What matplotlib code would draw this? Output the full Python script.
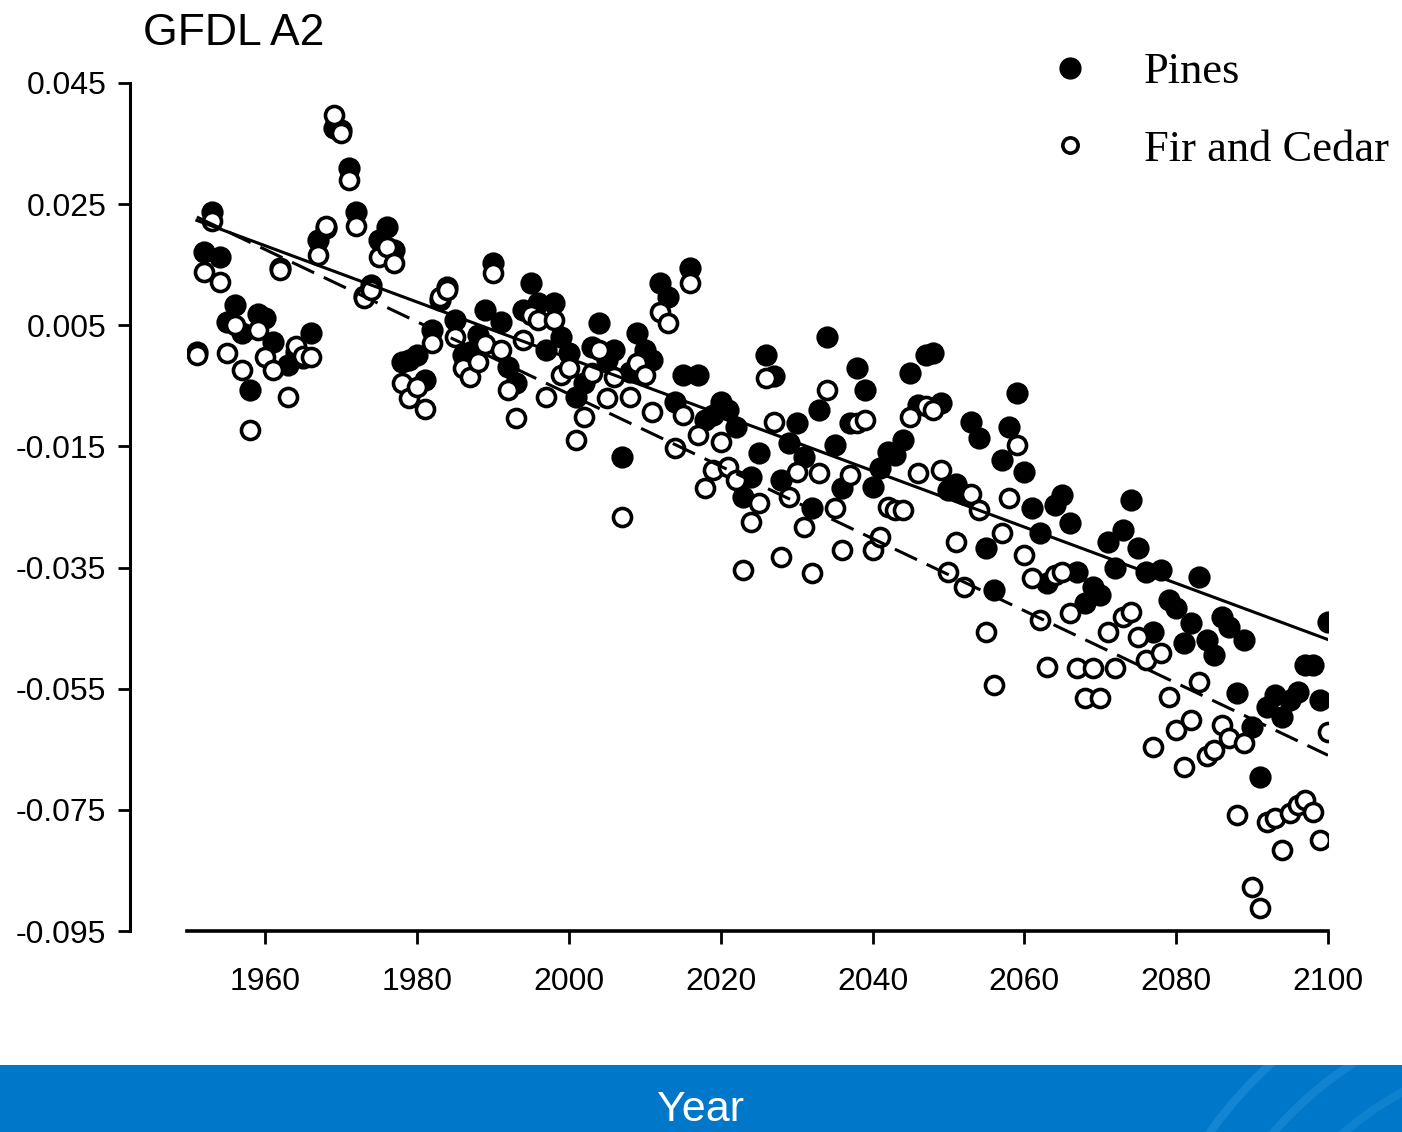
import matplotlib
matplotlib.use("Agg")
import matplotlib.pyplot as plt
from matplotlib.lines import Line2D
from matplotlib.patches import Rectangle, Arc
import numpy as np

# years 1951-2100, one value per year for each group
years = list(range(1951, 2101))

pines = [
    0.0006, 0.0171, 0.0237, 0.0163, 0.0055, 0.0083, 0.0037, -0.0057, 0.0068, 0.0062,   # 1951-1960
    0.0022, 0.0145, -0.0016, 0.0006, -0.0004, 0.0037, 0.0191, 0.0211, 0.0376, 0.0372,  # 1961-1970
    0.0310, 0.0237, 0.0098, 0.0117, 0.0191, 0.0212, 0.0174, -0.0011, -0.0007, 0.0001,  # 1971-1980
    -0.0040, 0.0042, 0.0092, 0.0113, 0.0059, 0.0001, 0.0006, 0.0034, 0.0075, 0.0153,   # 1981-1990
    0.0055, -0.0019, -0.0045, 0.0075, 0.0120, 0.0087, 0.0009, 0.0087, 0.0031, 0.0004,  # 1991-2000
    -0.0068, -0.0045, 0.0014, 0.0054, -0.0007, 0.0009, -0.0167, -0.0027, 0.0037, 0.0009,  # 2001-2010
    -0.0007, 0.0120, 0.0097, -0.0077, -0.0032, 0.0145, -0.0032, -0.0106, -0.0098, -0.0077,  # 2011-2020
    -0.0090, -0.0118, -0.0233, -0.0200, -0.0161, 0.0001, -0.0034, -0.0205, -0.0144, -0.0111,  # 2021-2030
    -0.0167, -0.0252, -0.0090, 0.0031, -0.0148, -0.0219, -0.0111, -0.0021, -0.0057, -0.0217,  # 2031-2040
    -0.0186, -0.0159, -0.0164, -0.0139, -0.0029, -0.0082, 0.0001, 0.0004, -0.0078, -0.0222,  # 2041-2050
    -0.0212, -0.0228, -0.0110, -0.0136, -0.0318, -0.0387, -0.0172, -0.0118, -0.0062, -0.0192,  # 2051-2060
    -0.0252, -0.0293, -0.0375, -0.0247, -0.0230, -0.0276, -0.0357, -0.0409, -0.0382, -0.0395,  # 2061-2070
    -0.0308, -0.0351, -0.0288, -0.0238, -0.0318, -0.0357, -0.0456, -0.0354, -0.0404, -0.0417,  # 2071-2080
    -0.0475, -0.0442, -0.0366, -0.0470, -0.0494, -0.0432, -0.0448, -0.0557, -0.0470, -0.0613,  # 2081-2090
    -0.0696, -0.0580, -0.0560, -0.0597, -0.0569, -0.0555, -0.0511, -0.0511, -0.0569, -0.0440,  # 2091-2100
]

fir_cedar = [
    0.0001, 0.0138, 0.0222, 0.0121, 0.0004, 0.0050, -0.0024, -0.0123, 0.0042, -0.0002,
    -0.0024, 0.0141, -0.0068, 0.0016, -0.0001, -0.0002, 0.0166, 0.0214, 0.0397, 0.0367,
    0.0290, 0.0214, 0.0095, 0.0108, 0.0163, 0.0179, 0.0153, -0.0045, -0.0070, -0.0052,
    -0.0088, 0.0021, 0.0097, 0.0108, 0.0031, -0.0021, -0.0035, -0.0011, 0.0019, 0.0136,
    0.0009, -0.0057, -0.0103, 0.0026, 0.0067, 0.0059, -0.0068, 0.0059, -0.0032, -0.0021,
    -0.0139, -0.0101, -0.0029, 0.0009, -0.0070, -0.0035, -0.0267, -0.0068, -0.0012, -0.0032,
    -0.0093, 0.0072, 0.0054, -0.0153, -0.0098, 0.0120, -0.0131, -0.0219, -0.0189, -0.0143,
    -0.0184, -0.0205, -0.0354, -0.0275, -0.0243, -0.0037, -0.0110, -0.0333, -0.0233, -0.0192,
    -0.0283, -0.0359, -0.0194, -0.0057, -0.0252, -0.0321, -0.0197, -0.0111, -0.0106, -0.0321,
    -0.0300, -0.0250, -0.0255, -0.0255, -0.0101, -0.0194, -0.0083, -0.0090, -0.0189, -0.0357,
    -0.0308, -0.0382, -0.0228, -0.0255, -0.0456, -0.0544, -0.0293, -0.0235, -0.0148, -0.0329,
    -0.0367, -0.0437, -0.0514, -0.0362, -0.0357, -0.0425, -0.0516, -0.0565, -0.0516, -0.0565,
    -0.0456, -0.0516, -0.0432, -0.0424, -0.0465, -0.0503, -0.0646, -0.0491, -0.0564, -0.0618,
    -0.0679, -0.0602, -0.0539, -0.0661, -0.0651, -0.0610, -0.0631, -0.0759, -0.0640, -0.0877,
    -0.0912, -0.0770, -0.0763, -0.0816, -0.0755, -0.0742, -0.0734, -0.0754, -0.0800, -0.0621,
]

y_ticks = [0.045, 0.025, 0.005, -0.015, -0.035, -0.055, -0.075, -0.095]
x_ticks = [1960, 1980, 2000, 2020, 2040, 2060, 2080, 2100]

W, H = 1402, 1132
fig = plt.figure(figsize=(W / 100, H / 100), dpi=100)
ax = fig.add_axes([187 / W, 1 - 931 / H, (1328 - 187) / W, (931 - 83) / H])

yr = np.array(years)
ax.plot(yr, pines, 'o', ms=14, mfc='black', mec='black', mew=2, zorder=2)
ax.plot(yr, fir_cedar, 'o', ms=13, mfc='white', mec='black', mew=2.6, zorder=2.5)

# linear trends
for vals, style in [(pines, '-'), (fir_cedar, (0, (8, 3.5)))]:
    k, b = np.polyfit(yr, vals, 1)
    ax.plot([1951, 2100], [k * 1951 + b, k * 2100 + b], color='black', lw=2.2,
            linestyle=style, zorder=3)

ax.set_xlim(1949.7, 2100)
ax.set_ylim(-0.095, 0.045)
ax.set_xticks(x_ticks)
ax.set_yticks(y_ticks)
ax.set_yticklabels([f"{t:.3f}" for t in y_ticks])

for s in ['top', 'right']:
    ax.spines[s].set_visible(False)
ax.spines['left'].set_position(('outward', 41))
ax.spines['left'].set_linewidth(2.2)
ax.spines['bottom'].set_linewidth(2.6)
ax.tick_params(axis='both', direction='out', length=9, width=2, labelsize=23,
               colors='black')
ax.tick_params(axis='x', pad=17)
ax.tick_params(axis='y', pad=8)
for lab in ax.get_xticklabels() + ax.get_yticklabels():
    lab.set_family('Liberation Sans')

fig.text(143 / W, 1 - 45 / H, "GFDL A2", fontsize=32, family='Liberation Sans',
         va='baseline', ha='left')

handles = [
    Line2D([], [], linestyle='none', marker='o', ms=15, mfc='black', mec='black'),
    Line2D([], [], linestyle='none', marker='o', ms=11, mfc='white', mec='black', mew=2.6),
]
leg = fig.legend(handles, ["Pines", "Fir and Cedar"], loc='upper left',
                 bbox_to_anchor=(1048 / W, 1 - 52 / H), frameon=False,
                 prop={'family': 'Liberation Serif', 'size': 32},
                 handlelength=1.0, handletextpad=1.15, labelspacing=0.85,
                 borderpad=0, borderaxespad=0)

# blue band with axis title
band = Rectangle((0, 0), 1, 67 / H, transform=fig.transFigure,
                 facecolor='#0077c8', edgecolor='none', zorder=0)
fig.patches.append(band)
for r, a in [(430, 0.35), (380, 0.3), (330, 0.25), (280, 0.2)]:
    arc = Arc((1560 / W, -250 / H), 2 * r / W, 2 * r / H,
              theta1=95, theta2=175, transform=fig.transFigure,
              color='#3aa0e6', alpha=a, lw=6, zorder=0.5)
    arc.set_clip_path(band)
    fig.patches.append(arc)
fig.text(0.5, 1 - 1110 / H, "Year", color='white', fontsize=31,
         family='Liberation Sans', ha='center', va='center')

fig.savefig("out.png", dpi=100, facecolor='white')
